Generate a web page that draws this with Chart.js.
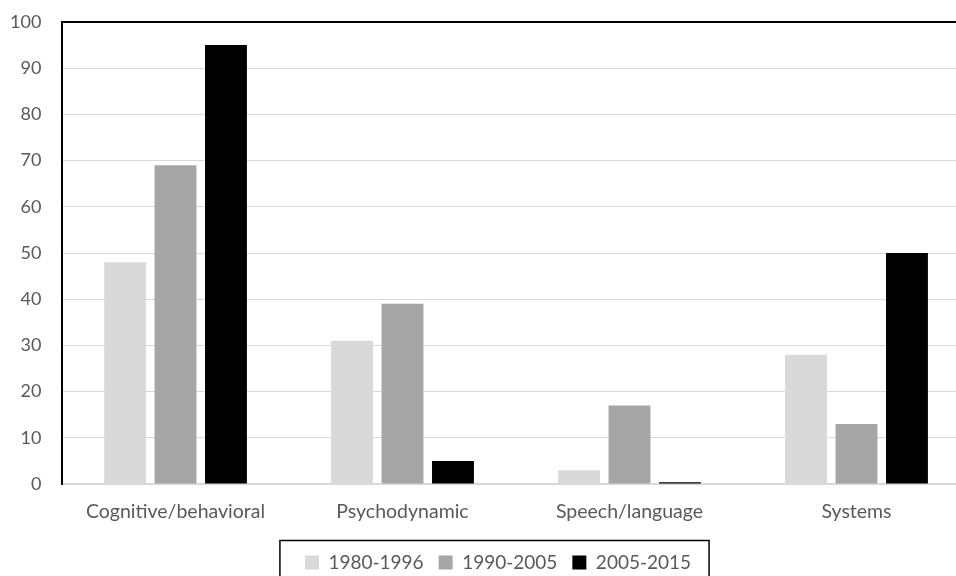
<!DOCTYPE html>
<html lang="en">

<head>
    <meta charset="UTF-8">
    <title>Chart</title>
    <script src="https://cdn.jsdelivr.net/npm/chart.js@4"></script>
    <style>
        html, body { margin: 0; padding: 0; overflow: hidden; background: #fff; }
        #box { width: 996px; height: 576px; }
    </style>
</head>

<body>
    <div id="box"><canvas id="grafico"></canvas></div>
</body>

</html>

<script>
    const categorias = ['Cognitive/behavioral', 'Psychodynamic', 'Speech/language', 'Systems'];
    const periodos = ['1980-1996', '1990-2005', '2005-2015'];
    const serie1980 = [48, 31, 3, 28];
    const serie1990 = [69, 39, 17, 13];
    const serie2005 = [95, 5, 0.4, 50];
    const marcasY = [0, 10, 20, 30, 40, 50, 60, 70, 80, 90, 100];

    const cores = ['#d9d9d9', '#a6a6a6', '#000000'];

    // moldura de cima do grafico e caixa da legenda
    const moldura = {
        id: 'moldura',
        afterDraw(chart) {
            const ctx = chart.ctx;
            const area = chart.chartArea;
            ctx.save();
            ctx.strokeStyle = '#000';
            ctx.lineWidth = 2;
            ctx.beginPath();
            ctx.moveTo(area.left - 1, area.top);
            ctx.lineTo(area.right, area.top);
            ctx.stroke();

            const itens = chart.legend.legendHitBoxes;
            if (itens && itens.length) {
                const x0 = Math.min(...itens.map(h => h.left)) - 25;
                const x1 = Math.max(...itens.map(h => h.left + h.width)) + 18;
                ctx.lineWidth = 1.5;
                ctx.strokeRect(x0, 540.5, x1 - x0, 60);
            }
            ctx.restore();
        }
    };

    const ctx = document.getElementById('grafico');

    new Chart(ctx, {
        type: 'bar',
        data: {
            labels: categorias,
            datasets: [
                { label: periodos[0], data: serie1980, backgroundColor: cores[0] },
                { label: periodos[1], data: serie1990, backgroundColor: cores[1] },
                { label: periodos[2], data: serie2005, backgroundColor: cores[2] }
            ]
        },
        options: {
            responsive: true,
            maintainAspectRatio: false,
            animation: false,
            layout: { padding: { top: 22, right: 26, left: 26, bottom: -6 } },
            datasets: {
                bar: { categoryPercentage: 0.667, barPercentage: 0.83, borderWidth: 0 }
            },
            plugins: {
                legend: {
                    position: 'bottom',
                    labels: {
                        color: '#595959',
                        font: { family: 'Lato', size: 19 },
                        boxWidth: 14,
                        boxHeight: 14,
                        padding: 15
                    }
                },
                tooltip: { enabled: false }
            },
            scales: {
                x: {
                    afterFit(scale) { scale.height = 54; },
                    grid: { display: false, drawTicks: false },
                    border: { color: '#d9d9d9', width: 2 },
                    ticks: { color: '#595959', font: { family: 'Lato', size: 19.5 }, padding: 16 }
                },
                y: {
                    min: 0,
                    max: 100,
                    afterFit(scale) { scale.width = 36; },
                    afterBuildTicks(scale) { scale.ticks = marcasY.map(v => ({ value: v })); },
                    grid: { color: '#d9d9d9', lineWidth: 1, drawTicks: false },
                    border: { color: '#000', width: 2 },
                    // mirror + padding negativo: rotulos fora da area, sem corte
                    ticks: { color: '#595959', font: { family: 'Lato', size: 18 }, mirror: true, crossAlign: 'far', padding: -52 }
                }
            }
        },
        plugins: [moldura]
    });
</script>
